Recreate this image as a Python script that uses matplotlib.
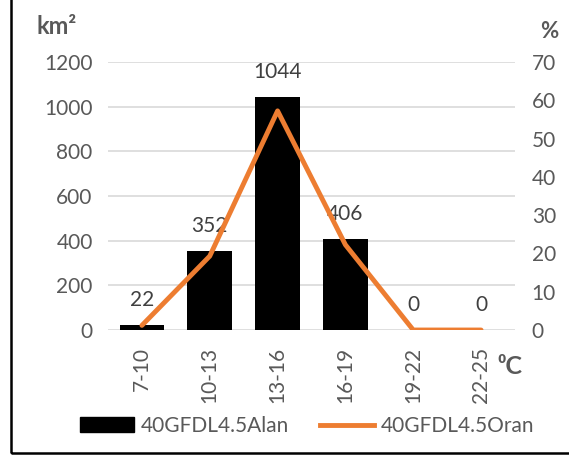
import matplotlib.pyplot as plt
from matplotlib.patches import Rectangle
from matplotlib.lines import Line2D

# Temperature classes and area per class
categories = ["7-10", "10-13", "13-16", "16-19", "19-22", "22-25"]
area_km2 = [22, 352, 1044, 406, 0, 0]
total = sum(area_km2)
share_pct = [a / total * 100 for a in area_km2]

plt.rcParams['font.family'] = ['Lato', 'DejaVu Sans']
gray = "#595959"
orange = "#ED7D31"

W, H = 569, 457
fig = plt.figure(figsize=(W / 100, H / 100), dpi=100)

# outer frame
fig.patches.append(Rectangle((11 / W, 4 / H), 1.0, 1.0, transform=fig.transFigure,
                             fill=False, edgecolor="black", linewidth=1.8))

ax = fig.add_axes([108 / W, (H - 330) / H, 407 / W, 268 / H])
x = range(len(categories))
ax.bar(x, area_km2, width=0.66, color="black", zorder=3)
ax.set_ylim(0, 1200)
ax.set_xlim(-0.5, len(categories) - 0.5)
ax.set_yticks(range(0, 1201, 200))
ax.grid(axis="y", color="#d9d9d9", linewidth=1.2, zorder=0)
for s in ax.spines.values():
    s.set_visible(False)
ax.tick_params(length=0, labelsize=15, colors=gray, pad=11)
ax.set_xticks(list(x))
ax.set_xticklabels(categories, rotation=90)
ax.tick_params(axis="x", pad=12)

for xi, v in zip(x, area_km2):
    ax.annotate(str(v), (xi, v), xytext=(0, 11), textcoords="offset points",
                ha="center", va="bottom", fontsize=15, color="#404040")

ax2 = ax.twinx()
ax2.plot(list(x), share_pct, color=orange, linewidth=3.5, solid_capstyle="round", zorder=4)
ax2.set_ylim(0, 70)
ax2.set_yticks(range(0, 71, 10))
for s in ax2.spines.values():
    s.set_visible(False)
ax2.tick_params(length=0, labelsize=15, colors=gray, pad=12)

fig.text(37 / W, 1 - 26 / H, "km²", fontsize=17, fontweight="bold", color=gray, va="center")
fig.text(549 / W, 1 - 31 / H, "%", fontsize=16, fontweight="bold", color=gray, va="center", ha="center")
fig.text(510 / W, 1 - 366 / H, "⁰C", fontsize=18, fontweight="bold", color=gray, va="center", ha="center")

handles = [Rectangle((0, 0), 1, 1, color="black"),
           Line2D([0], [0], color=orange, linewidth=3.5)]
fig.legend(handles, ["40GFDL4.5Alan", "40GFDL4.5Oran"], loc="center",
           bbox_to_anchor=(307 / W, 1 - 426 / H), ncol=2, frameon=False,
           fontsize=15, labelcolor=gray, handlelength=2.6, handletextpad=0.3,
           columnspacing=1.5, handleheight=0.75)

fig.savefig("out.png", dpi=100)
